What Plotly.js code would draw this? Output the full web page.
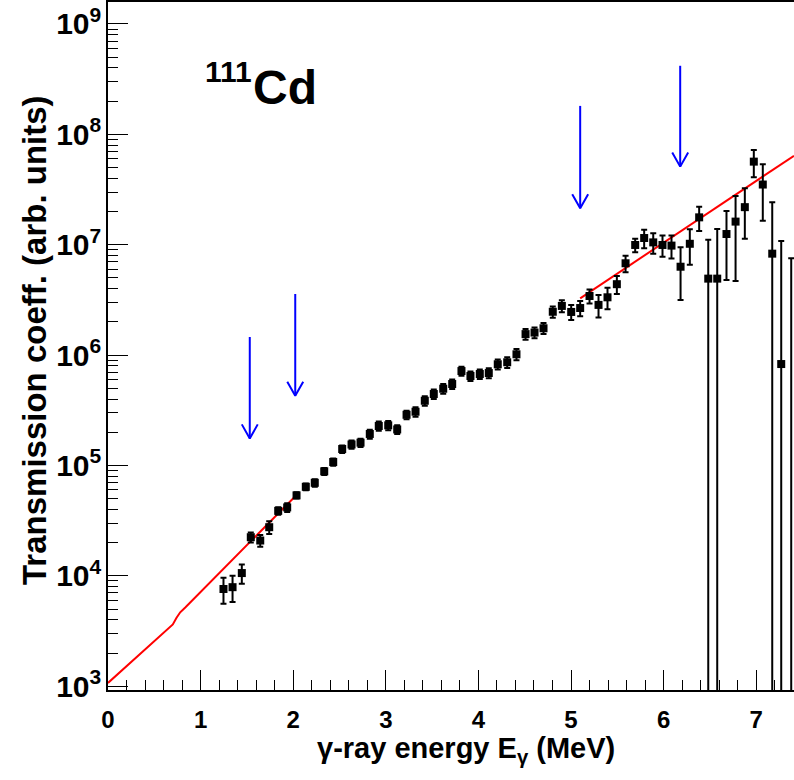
<!DOCTYPE html>
<html>
<head>
<meta charset="utf-8">
<script src="https://cdn.plot.ly/plotly-3.0.1.min.js"></script>
<style>
html,body{margin:0;padding:0;background:#ffffff;}
#chart{width:794px;height:780px;}
</style>
</head>
<body>
<div id="chart"></div>
<script>
// ---- data ----
const energy = [1.247, 1.345, 1.445, 1.542, 1.644, 1.741, 1.838, 1.935, 2.036, 2.136,
  2.233, 2.335, 2.432, 2.529, 2.630, 2.727, 2.827, 2.924, 3.026, 3.123,
  3.224, 3.321, 3.421, 3.518, 3.620, 3.717, 3.817, 3.914, 4.015, 4.112,
  4.209, 4.311, 4.411, 4.509, 4.606, 4.703, 4.803, 4.901, 5.002, 5.099,
  5.200, 5.297, 5.394, 5.495, 5.589, 5.693, 5.790, 5.888, 5.988, 6.085,
  6.183, 6.283, 6.384, 6.482, 6.579, 6.679, 6.777, 6.877, 6.974, 7.071,
  7.173, 7.270, 7.378];

// last value lies below the frame (only its upper error bar is visible)
const transmission = [7.6e3, 7.9e3, 1.06e4, 2.24e4, 2.09e4, 2.76e4, 3.88e4, 4.17e4, 5.36e4, 6.41e4,
  6.97e4, 8.85e4, 1.075e5, 1.41e5, 1.55e5, 1.61e5, 1.93e5, 2.28e5, 2.31e5, 2.12e5,
  2.88e5, 3.07e5, 3.86e5, 4.44e5, 4.96e5, 5.47e5, 7.17e5, 6.47e5, 6.74e5, 6.88e5,
  8.26e5, 8.61e5, 1.017e6, 1.55e6, 1.60e6, 1.75e6, 2.47e6, 2.79e6, 2.46e6, 2.67e6,
  3.43e6, 2.85e6, 3.34e6, 4.39e6, 6.79e6, 9.95e6, 1.15e7, 1.05e7, 9.95e6, 9.82e6,
  6.32e6, 1.02e7, 1.77e7, 4.93e6, 4.93e6, 1.25e7, 1.62e7, 2.19e7, 5.66e7, 3.51e7,
  8.3e6, 8.3e5, 1.0e1];

const transErr = [2.0e3, 2.1e3, 2.1e3, 2.3e3, 2.5e3, 3.6e3, 3.0e3, 3.8e3, 3.5e3, 4.5e3,
  5.5e3, 6.5e3, 8.0e3, 1.1e4, 1.3e4, 1.4e4, 1.8e4, 2.2e4, 2.2e4, 1.9e4,
  2.6e4, 3.0e4, 3.8e4, 4.3e4, 5.0e4, 5.5e4, 6.8e4, 6.5e4, 6.8e4, 7.2e4,
  8.5e4, 9.5e4, 1.2e5, 1.7e5, 1.8e5, 2.0e5, 2.9e5, 3.5e5, 3.8e5, 4.2e5,
  5.0e5, 6.6e5, 7.4e5, 8.2e5, 1.17e6, 1.4e6, 2.2e6, 2.2e6, 2.15e6, 2.3e6,
  3.16e6, 3.6e6, 4.4e6, 6.14e6, 8.97e6, 7.7e6, 1.15e7, 1.06e7, 1.57e7, 1.86e7,
  1.6e7, 1.0e7, 7.55e6];

// fit curves (red)
const fitLowE = [0.0, 0.664, 0.70, 0.74, 0.78, 0.837, 2.036];
const fitLowT = [1072, 3357, 3631, 4169, 4677, 5200, 5.41e4];
const fitHighE = [5.099, 7.408];
const fitHighT = [3.27e6, 6.4e7];

// blue arrows (energy, top of shaft, tip)
const arrowE = [1.531, 2.022, 5.099, 6.179];
const arrowTop = [1.46e6, 3.58e6, 1.81e8, 4.18e8];
const arrowTip = [1.76e5, 4.29e5, 2.14e7, 5.1e7];

// ---- layout geometry ----
const L = 108, T = 2, W = 686, H = 688;
const FONT = 'Liberation Sans, Arial, Helvetica, sans-serif';
const xRange = [0, 7.408];
const yRange = [2.966, 9.199];
const pxX = p => (p - L) / W;
const pxY = p => (T + H - p) / H;

// arrow heads: half-width in MeV and depth as a factor in log space
const headHalfW = 0.086, headFactor = Math.pow(10, 0.127);
const arrX = [], arrY = [];
arrowE.forEach((e, i) => {
  arrX.push(e, e, null, e - headHalfW, e, e + headHalfW, null);
  arrY.push(arrowTop[i], arrowTip[i], null, arrowTip[i] * headFactor, arrowTip[i], arrowTip[i] * headFactor, null);
});

const traces = [
  {x: fitLowE, y: fitLowT, mode: 'lines', line: {color: '#ff0000', width: 2}, hoverinfo: 'skip'},
  {x: fitHighE, y: fitHighT, mode: 'lines', line: {color: '#ff0000', width: 2}, hoverinfo: 'skip'},
  {x: energy, y: transmission, mode: 'markers',
   marker: {symbol: 'square', size: 8, color: '#000000'},
   error_y: {type: 'data', array: transErr, symmetric: true, visible: true, color: '#000000', thickness: 2, width: 3}},
  {x: arrX, y: arrY, mode: 'lines', line: {color: '#0000ff', width: 2}, connectgaps: false, hoverinfo: 'skip'}
];

const tickFont = {family: FONT, size: 24, color: '#000', weight: 'bold'};

const layout = {
  width: 794, height: 780,
  margin: {l: L, r: 0, t: T, b: 90, pad: 0},
  paper_bgcolor: '#ffffff', plot_bgcolor: '#ffffff',
  showlegend: false,
  xaxis: {
    range: xRange, tick0: 0, dtick: 1,
    ticks: 'inside', ticklen: 20, tickwidth: 1, tickcolor: '#000',
    minor: {dtick: 0.2, tick0: 0, ticks: 'inside', ticklen: 10, tickwidth: 1, tickcolor: '#000', showgrid: false},
    showline: true, linewidth: 2, linecolor: '#000', mirror: true,
    showgrid: false, zeroline: false,
    tickfont: tickFont, ticklabelstandoff: 7
  },
  yaxis: {
    type: 'log', range: yRange, dtick: 1, exponentformat: 'power',
    ticks: 'inside', ticklen: 20, tickwidth: 1, tickcolor: '#000',
    minor: {dtick: 'D1', ticks: 'inside', ticklen: 10, tickwidth: 1, tickcolor: '#000', showgrid: false},
    showline: true, linewidth: 2, linecolor: '#000', mirror: false,
    showgrid: false, zeroline: false,
    tickfont: tickFont, ticklabelstandoff: 0
  },
  annotations: [
    {text: '111', xref: 'paper', yref: 'paper', x: pxX(203), y: pxY(72), xanchor: 'left', yanchor: 'middle',
     showarrow: false, font: {family: FONT, size: 30, color: '#000', weight: 'bold'}},
    {text: 'Cd', xref: 'paper', yref: 'paper', x: pxX(251), y: pxY(87.5), xanchor: 'left', yanchor: 'middle',
     showarrow: false, font: {family: FONT, size: 48, color: '#000', weight: 'bold'}},
    {text: 'γ-ray energy E<sub>γ</sub> (MeV)', xref: 'paper', yref: 'paper', x: pxX(466), y: pxY(750),
     xanchor: 'center', yanchor: 'middle', showarrow: false,
     font: {family: FONT, size: 29, color: '#000', weight: 'bold'}},
    {text: 'Transmission coeff. (arb. units)', xref: 'paper', yref: 'paper', x: pxX(34), y: pxY(340),
     xanchor: 'center', yanchor: 'middle', textangle: -90, showarrow: false,
     font: {family: FONT, size: 33, color: '#000', weight: 'bold'}}
  ]
};

Plotly.newPlot('chart', traces, layout, {staticPlot: true, displayModeBar: false});
</script>
</body>
</html>
